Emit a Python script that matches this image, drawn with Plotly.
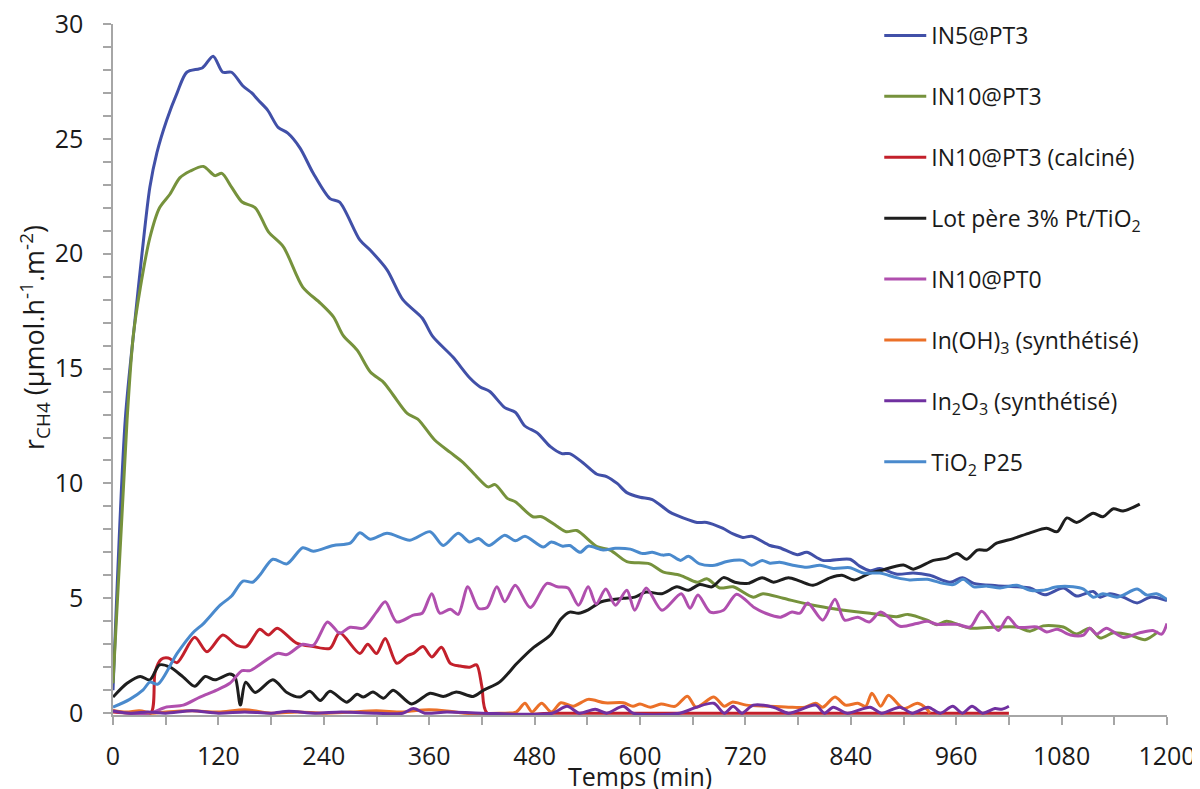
import plotly.graph_objects as go

# CH4 production rate vs time
in5_pt3_t = [0, 14, 25, 33, 42, 50, 61, 73, 84, 102, 114, 125, 135, 148, 158, 165, 176, 188, 199, 213,
             228, 247, 258, 281, 293, 312, 330, 352, 364, 387, 406, 418, 429, 446, 458, 469, 483, 498,
             511, 520, 535, 551, 562, 574, 585, 600, 614, 634, 649, 665, 676, 694, 706, 717, 727, 748,
             759, 779, 790, 808, 839, 850, 862, 873, 893, 911, 930, 953, 967, 980, 1006, 1029, 1044,
             1061, 1082, 1097, 1116, 1124, 1135, 1150, 1166, 1181, 1200]
in5_pt3 = [1.0, 12.8, 17.1, 20.0, 22.9, 24.4, 25.8, 27.0, 27.9, 28.1, 28.6, 27.9, 27.9, 27.3, 27.0, 26.7,
           26.25, 25.5, 25.25, 24.6, 23.5, 22.4, 22.25, 20.6, 20.15, 19.3, 18.0, 17.2, 16.4, 15.5, 14.6,
           14.2, 14.0, 13.3, 13.1, 12.5, 12.2, 11.6, 11.3, 11.3, 10.9, 10.4, 10.3, 10.0, 9.6, 9.4, 9.3,
           8.75, 8.5, 8.3, 8.3, 8.05, 7.8, 7.65, 7.7, 7.3, 7.2, 6.9, 7.0, 6.65, 6.7, 6.4, 6.2, 6.3, 6.05,
           6.1, 6.0, 5.7, 5.9, 5.65, 5.55, 5.5, 5.45, 5.15, 5.45, 5.1, 5.3, 5.05, 5.2, 5.05, 4.8, 5.05, 4.9]

in10_pt3_t = [0, 16, 23, 31, 42, 53, 65, 76, 88, 103, 116, 124, 135, 147, 162, 177, 194, 216, 236, 251,
              262, 278, 293, 308, 319, 335, 347, 366, 384, 399, 414, 427, 435, 449, 458, 478, 488, 505,
              516, 528, 551, 566, 585, 611, 626, 646, 665, 676, 691, 706, 729, 740, 763, 790, 816, 839,
              862, 892, 905, 927, 938, 949, 976, 1006, 1029, 1044, 1059, 1082, 1097, 1112, 1124, 1139,
              1158, 1175, 1190]
in10_pt3 = [1.3, 12.75, 16.4, 18.5, 20.7, 22.0, 22.6, 23.3, 23.6, 23.8, 23.4, 23.5, 22.9, 22.25, 22.0,
            20.95, 20.3, 18.55, 17.85, 17.25, 16.45, 15.8, 14.85, 14.4, 13.85, 13.05, 12.8, 11.9, 11.35,
            10.9, 10.3, 9.85, 9.95, 9.35, 9.2, 8.55, 8.55, 8.15, 7.9, 7.95, 7.25, 7.1, 6.6, 6.5, 6.15,
            6.0, 5.7, 5.85, 5.45, 5.5, 5.05, 5.2, 5.0, 4.75, 4.57, 4.45, 4.35, 4.2, 4.3, 4.05, 3.85, 4.0,
            3.7, 3.75, 3.75, 3.57, 3.8, 3.75, 3.45, 3.7, 3.27, 3.5, 3.4, 3.2, 3.55]

calcine_t = [0, 20, 43, 48, 55, 63, 73, 93, 107, 125, 141, 152, 167, 177, 187, 209, 228, 247, 258, 281,
             290, 300, 310, 323, 335, 342, 353, 363, 374, 384, 395, 406, 414, 420, 426, 500, 600, 700,
             800, 900, 1020]
calcine = [0.05, 0.0, 0.0, 1.8, 2.35, 2.4, 2.2, 3.3, 2.67, 3.4, 2.95, 2.9, 3.65, 3.4, 3.7, 3.05, 2.9,
           2.82, 3.5, 2.6, 3.0, 2.6, 3.25, 2.17, 2.5, 2.6, 2.9, 2.45, 2.87, 2.17, 2.05, 2.0, 2.1, 1.15,
           0.0, 0.0, 0.0, 0.0, 0.0, 0.0, 0.0]

lot_pere_t = [0, 16, 31, 42, 53, 65, 80, 93, 105, 116, 133, 139, 145, 151, 162, 182, 198, 213, 224, 236,
              247, 266, 278, 285, 296, 308, 319, 340, 361, 376, 391, 410, 422, 440, 460, 478, 498, 510,
              520, 530, 541, 556, 581, 594, 607, 625, 642, 655, 668, 682, 695, 708, 723, 739, 752, 769,
              782, 797, 817, 830, 844, 862, 873, 900, 911, 934, 949, 961, 972, 984, 995, 1006, 1025,
              1044, 1063, 1075, 1086, 1097, 1116, 1127, 1139, 1150, 1169]
lot_pere = [0.7, 1.3, 1.6, 1.45, 2.1, 2.0, 1.57, 1.17, 1.6, 1.45, 1.7, 1.57, 0.35, 1.35, 0.9, 1.45, 0.9,
            0.7, 0.95, 0.55, 0.95, 0.48, 0.82, 0.7, 0.92, 0.65, 1.0, 0.4, 0.87, 0.73, 0.92, 0.73, 1.0,
            1.35, 2.17, 2.83, 3.4, 4.1, 4.4, 4.35, 4.5, 4.85, 5.0, 5.05, 5.27, 5.2, 5.5, 5.35, 5.6, 5.5,
            5.9, 5.7, 5.65, 5.9, 5.7, 5.9, 5.75, 5.57, 5.9, 6.0, 5.8, 6.1, 6.2, 6.45, 6.27, 6.65, 6.75,
            6.95, 6.7, 7.1, 7.1, 7.4, 7.6, 7.85, 8.05, 7.9, 8.5, 8.3, 8.7, 8.55, 8.9, 8.8, 9.1]

in10_pt0_t = [0, 20, 42, 61, 80, 99, 118, 133, 147, 156, 187, 198, 216, 228, 244, 251, 258, 270, 285,
              300, 310, 323, 342, 352, 363, 372, 384, 393, 404, 416, 426, 437, 446, 458, 475, 494, 506,
              518, 530, 541, 550, 561, 572, 585, 594, 607, 625, 647, 657, 666, 680, 695, 710, 730, 743,
              760, 773, 782, 791, 808, 822, 833, 848, 861, 874, 896, 915, 927, 938, 961, 976, 989, 1008,
              1019, 1030, 1052, 1063, 1075, 1090, 1105, 1112, 1120, 1131, 1150, 1169, 1184, 1194, 1200]
in10_pt0 = [0.1, 0.0, 0.0, 0.27, 0.35, 0.7, 1.0, 1.3, 1.85, 1.85, 2.6, 2.55, 3.0, 2.95, 3.97, 3.75, 3.48,
            3.74, 3.7, 4.4, 4.85, 3.97, 4.27, 4.35, 5.2, 4.35, 4.52, 4.3, 5.5, 4.57, 4.6, 5.5, 4.85,
            5.57, 4.6, 5.65, 5.5, 5.45, 4.7, 5.5, 4.75, 5.4, 4.7, 5.35, 4.48, 5.45, 4.48, 5.2, 4.57,
            5.14, 4.4, 4.48, 5.18, 4.6, 4.35, 4.18, 4.4, 4.35, 4.8, 4.05, 4.96, 4.05, 4.18, 3.97, 4.4,
            3.78, 3.9, 4.0, 3.87, 3.87, 3.75, 4.44, 3.6, 4.18, 3.75, 3.75, 3.53, 3.65, 3.4, 3.4, 3.7,
            3.44, 3.7, 3.3, 3.5, 3.6, 3.44, 3.9]

in_oh3_t = [0, 15, 30, 45, 60, 90, 120, 150, 180, 210, 240, 270, 300, 330, 345, 360, 380, 400, 440, 459,
            469, 477, 488, 499, 510, 524, 541, 560, 581, 592, 600, 612, 624, 640, 654, 664, 684, 696,
            705, 721, 745, 769, 788, 800, 808, 822, 834, 848, 857, 864, 874, 883, 900, 916, 926, 930]
in_oh3 = [0.12, 0.05, 0.1, 0.0, 0.05, 0.1, 0.05, 0.15, 0.0, 0.05, 0.0, 0.05, 0.1, 0.05, 0.12, 0.15, 0.1,
          0.0, 0.0, 0.05, 0.43, 0.05, 0.43, 0.05, 0.45, 0.3, 0.6, 0.45, 0.45, 0.3, 0.4, 0.26, 0.4, 0.3,
          0.74, 0.26, 0.7, 0.3, 0.48, 0.35, 0.3, 0.26, 0.26, 0.43, 0.26, 0.7, 0.35, 0.43, 0.3, 0.87,
          0.3, 0.78, 0.2, 0.43, 0.2, 0.0]

in2o3_t = [0, 20, 40, 60, 90, 120, 150, 180, 200, 230, 260, 300, 330, 342, 355, 380, 420, 500, 517, 531,
           549, 562, 581, 592, 645, 664, 684, 696, 706, 716, 729, 752, 769, 800, 810, 820, 836, 862, 875,
           896, 910, 928, 942, 956, 967, 978, 990, 1004, 1012, 1020]
in2o3 = [0.1, 0.0, 0.05, 0.0, 0.1, 0.0, 0.05, 0.0, 0.08, 0.0, 0.05, 0.0, 0.0, 0.2, 0.0, 0.05, 0.0, 0.0,
         0.3, 0.0, 0.17, 0.0, 0.3, 0.0, 0.0, 0.26, 0.43, 0.0, 0.3, 0.0, 0.35, 0.26, 0.0, 0.35, 0.0, 0.26,
         0.0, 0.26, 0.0, 0.26, 0.0, 0.26, 0.0, 0.3, 0.0, 0.3, 0.0, 0.2, 0.17, 0.3]

p25_t = [0, 19, 34, 42, 51, 73, 91, 103, 122, 135, 148, 159, 167, 182, 198, 216, 228, 251, 270, 281, 293,
         312, 338, 361, 376, 393, 406, 416, 428, 446, 458, 469, 490, 499, 512, 520, 532, 541, 558, 572,
         589, 603, 614, 626, 634, 646, 655, 668, 685, 699, 717, 727, 739, 748, 759, 774, 790, 805, 820,
         839, 854, 873, 892, 907, 927, 945, 957, 968, 980, 995, 1010, 1029, 1044, 1059, 1075, 1093, 1105,
         1116, 1127, 1143, 1150, 1166, 1177, 1188, 1200]
p25 = [0.26, 0.6, 1.0, 1.35, 1.26, 2.6, 3.5, 3.9, 4.7, 5.1, 5.75, 5.7, 6.0, 6.7, 6.5, 7.2, 7.05, 7.3, 7.4,
       7.85, 7.57, 7.83, 7.53, 7.9, 7.3, 7.83, 7.45, 7.6, 7.3, 7.75, 7.5, 7.7, 7.23, 7.45, 7.27, 7.3, 7.0,
       7.27, 7.1, 7.18, 7.14, 6.95, 7.0, 6.88, 6.9, 6.65, 6.83, 6.5, 6.44, 6.6, 6.65, 6.44, 6.65, 6.53,
       6.57, 6.44, 6.35, 6.44, 6.3, 6.33, 6.1, 6.1, 5.9, 5.8, 5.83, 5.65, 5.6, 5.83, 5.5, 5.53, 5.45, 5.57,
       5.35, 5.35, 5.5, 5.5, 5.4, 5.05, 5.2, 5.05, 5.14, 5.4, 5.14, 5.2, 4.95]

series = [
    ("IN5@PT3", in5_pt3_t, in5_pt3, "#4150A8"),
    ("IN10@PT3", in10_pt3_t, in10_pt3, "#76923C"),
    ("IN10@PT3 (calciné)", calcine_t, calcine, "#C3202B"),
    ("Lot père 3% Pt/TiO<sub>2</sub>", lot_pere_t, lot_pere, "#1E1E1E"),
    ("IN10@PT0", in10_pt0_t, in10_pt0, "#B04FAE"),
    ("In(OH)<sub>3</sub> (synthétisé)", in_oh3_t, in_oh3, "#EB7028"),
    ("In<sub>2</sub>O<sub>3</sub> (synthétisé)", in2o3_t, in2o3, "#7030A0"),
    ("TiO<sub>2</sub> P25", p25_t, p25, "#4A8ACD"),
]

fig = go.Figure()
for i, (name, t, v, col) in enumerate(series):
    fig.add_trace(go.Scatter(x=t, y=v, name=name, mode="lines", legendgroup=str(i),
                             line=dict(color=col, width=3, shape="spline", smoothing=0.8)))

font = "'Open Sans', sans-serif"
txt = "#1a1a1a"
axcol = "#A6A6A6"

# the page puts the figure 8px in from the top-left, margins make up for it
fig.update_layout(
    width=1200, height=789,
    margin=dict(l=105, r=41, t=16, b=82, autoexpand=False),
    plot_bgcolor="white", paper_bgcolor="white",
    font=dict(family=font, color=txt),
    showlegend=True,
    legend=dict(x=0.727, y=1.0145, xanchor="left", yanchor="top", bgcolor="rgba(0,0,0,0)",
                font=dict(size=23, family=font, color=txt), tracegroupgap=28,
                itemwidth=42, maxheight=760),
    xaxis=dict(range=[0, 1200], dtick=120, tick0=0, showgrid=False, zeroline=False, automargin=False,
               showline=True, linecolor=axcol, linewidth=1.5, ticklabeloverflow="allow",
               ticks="outside", ticklen=8, tickcolor=axcol, tickwidth=1.5, ticklabelstandoff=10,
               minor=dict(dtick=60, ticks="outside", ticklen=8, tickcolor=axcol, tickwidth=1.5),
               tickfont=dict(size=25, family=font, color=txt)),
    yaxis=dict(range=[-0.08, 30], dtick=5, tick0=0, showgrid=False, zeroline=False, automargin=False,
               showline=True, linecolor=axcol, linewidth=1.5, ticklabeloverflow="allow",
               ticks="outside", ticklen=8, tickcolor=axcol, tickwidth=1.5, ticklabelstandoff=15,
               minor=dict(dtick=1, ticks="outside", ticklen=8, tickcolor=axcol, tickwidth=1.5),
               tickfont=dict(size=25, family=font, color=txt)),
    annotations=[
        dict(text="Temps (min)", xref="paper", yref="paper", x=0.5, y=-0.088,
             xanchor="center", yanchor="middle", showarrow=False,
             font=dict(size=25, family=font, color=txt)),
        dict(text="r<sub>CH4</sub> (µmol.h<sup>-1</sup>.m<sup>-2</sup>)", xref="paper", yref="paper",
             x=-0.075, y=0.547, textangle=-90, xanchor="center", yanchor="middle", showarrow=False,
             font=dict(size=27, family=font, color=txt)),
    ],
)

fig.write_html("out.html")
